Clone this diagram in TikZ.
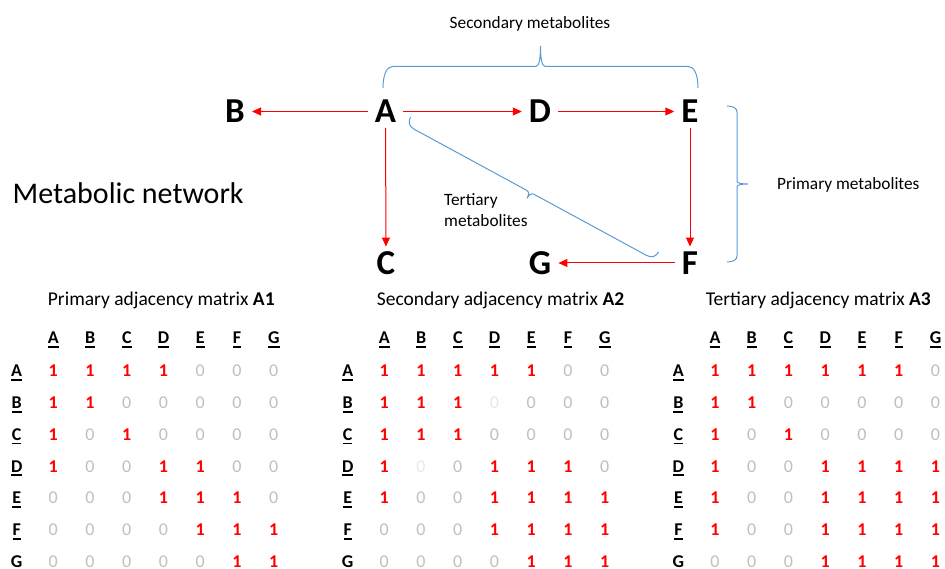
\documentclass[tikz,border=0pt]{standalone}
\usepackage{fontspec}
\setmainfont{Carlito}
\usetikzlibrary{arrows.meta}

\definecolor{netred}{RGB}{255,0,0}
\definecolor{zerogray}{RGB}{191,191,191}
\definecolor{faintgray}{RGB}{232,232,232}
\definecolor{braceblue}{RGB}{91,155,213}

% bold letter with a heavy underline
\newcommand\hdrline[1]{\setbox0\hbox{#1}\rlap{\rule[-4pt]{\wd0}{1.7pt}}\box0}

% one adjacency matrix: #1 name prefix, #2 x of first column, #3 rows
\newcommand\adjmatrix[3]{%
  \foreach \colname [count=\cj] in {A,B,C,D,E,F,G}
    \node[hdr] (#1-h\cj) at ({#2+36.75*(\cj-1)},338) {\hdrline{\colname}};
  \foreach \rowname/\vals [count=\ri] in {#3} {
    \node[hdr] (#1-r\ri) at ({#2-36.6},{371+31.8*(\ri-1)})
      {\ifnum\ri<7 \hdrline{\rowname}\else\rowname\fi};
    \foreach \val [count=\cj] in \vals
      \node[cell\val] (#1-\ri-\cj) at ({#2+36.75*(\cj-1)},{371+31.8*(\ri-1)})
        {\ifnum\val=1 1\else 0\fi};
  }%
}

\begin{document}
\begin{tikzpicture}[x=1pt,y=-1pt,
  metab/.style={font=\fontsize{35}{40}\selectfont\bfseries, inner xsep=7pt,
    inner ysep=5pt, text height=22.5pt, text depth=0pt},
  flow/.style={draw=netred, line width=1pt, -{Triangle[length=9pt,width=8pt]}},
  bracestyle/.style={draw=braceblue, line width=1pt},
  note/.style={font=\fontsize{17.3}{21}\selectfont, inner sep=0pt},
  title/.style={font=\fontsize{19.5}{22}\selectfont, inner sep=0pt, anchor=base west},
  mcell/.style={inner sep=0pt, text height=11.5pt, text depth=0pt, anchor=center},
  hdr/.style={mcell, font=\fontsize{18}{20}\selectfont\bfseries},
  cell1/.style={mcell, font=\fontsize{18}{20}\selectfont\bfseries, text=netred},
  cell0/.style={mcell, font=\fontsize{18}{20}\selectfont, text=zerogray},
  cell2/.style={mcell, font=\fontsize{18}{20}\selectfont, text=faintgray},
  pics/wbrace/.style args={#1/#2/#3/#4}{code={
    \draw[bracestyle] (0,0) .. controls (0,{0.6*(#2)}) and ({0.35*(#4)},#2) .. (#4,#2)
      -- ({(#1)/2-0.45*(#4)},#2)
      .. controls ({(#1)/2-0.1*(#4)},#2) and ({(#1)/2},{(#2)+0.5*((#3)-(#2))}) .. ({(#1)/2},#3)
      .. controls ({(#1)/2},{(#2)+0.5*((#3)-(#2))}) and ({(#1)/2+0.1*(#4)},#2) .. ({(#1)/2+0.45*(#4)},#2)
      -- ({(#1)-(#4)},#2)
      .. controls ({(#1)-0.35*(#4)},#2) and (#1,{0.6*(#2)}) .. (#1,0);
  }}
]
\useasboundingbox (0,0) rectangle (945,569);

% metabolic network
\node[metab] (A) at (385.5,111.5) {A};
\node[metab] (B) at (235,111.5) {B};
\node[metab] (D) at (540,111.5) {D};
\node[metab] (E) at (690,111.5) {E};
\node[metab] (C) at (386,263) {C};
\node[metab] (G) at (540,263) {G};
\node[metab] (F) at (690,263) {F};

\draw[flow] (A) -- (B);
\draw[flow] (A) -- (D);
\draw[flow] (D) -- (E);
\draw[flow] (A) -- (C);
\draw[flow] (E) -- (F);
\draw[flow] (F) -- (G);

\node[font=\fontsize{30}{34}\selectfont, inner sep=0pt, anchor=base west] (net) at (12.5,203.3) {Metabolic network};

% metabolite groups
\pic (secbrace) at (383,88) {wbrace={315/-21.6/-42/10}};
\node[note, anchor=base] (sec) at (530,28.5) {Secondary metabolites};
\pic[rotate=-90] (primbrace) at (727,106) {wbrace={156/-10/-21/6}};
\node[note, anchor=base west] (prim) at (777,190) {Primary metabolites};
\pic[rotate=-28.5] (tertbrace) at (410.5,117) {wbrace={282.5/9/16/9}};
\node[note, anchor=base west] (tert1) at (444,206) {Tertiary};
\node[note, anchor=base west] (tert2) at (444,226.7) {metabolites};

% adjacency matrices
\node[title] (t1) at (47.7,305.5) {Primary adjacency matrix \textbf{A1}};
\node[title] (t2) at (376.7,305.5) {Secondary adjacency matrix \textbf{A2}};
\node[title] (t3) at (705.7,305.5) {Tertiary adjacency matrix \textbf{A3}};

\adjmatrix{m1}{53.3}{A/{1,1,1,1,0,0,0},B/{1,1,0,0,0,0,0},C/{1,0,1,0,0,0,0},D/{1,0,0,1,1,0,0},E/{0,0,0,1,1,1,0},F/{0,0,0,0,1,1,1},G/{0,0,0,0,0,1,1}}
\adjmatrix{m2}{384.3}{A/{1,1,1,1,1,0,0},B/{1,1,1,2,0,0,0},C/{1,1,1,0,0,0,0},D/{1,2,0,1,1,1,0},E/{1,0,0,1,1,1,1},F/{0,0,0,1,1,1,1},G/{0,0,0,0,1,1,1}}
\adjmatrix{m3}{715}{A/{1,1,1,1,1,1,0},B/{1,1,0,0,0,0,0},C/{1,0,1,0,0,0,0},D/{1,0,0,1,1,1,1},E/{1,0,0,1,1,1,1},F/{1,0,0,1,1,1,1},G/{0,0,0,1,1,1,1}}
\end{tikzpicture}
\end{document}
